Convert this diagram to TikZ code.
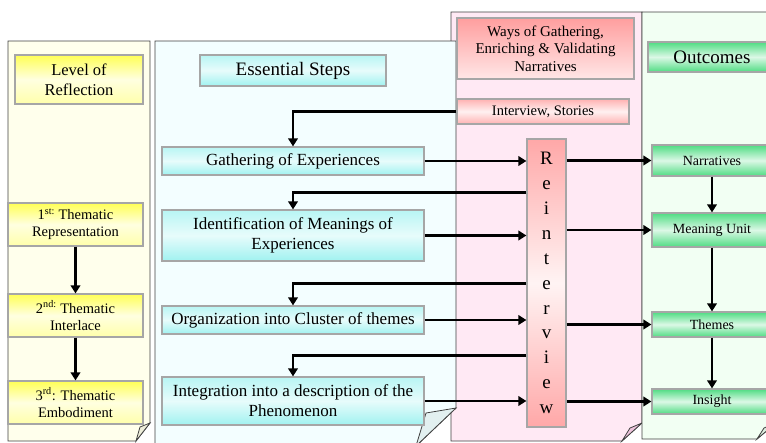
\documentclass[tikz,border=0pt]{standalone}
\usepackage{fontspec}
\setmainfont{Liberation Serif}
\usetikzlibrary{arrows.meta, positioning, calc}
\definecolor{panelline}{HTML}{404040}
\definecolor{paperyellow}{HTML}{FFFFEC}
\definecolor{papercyan}{HTML}{F3FEFF}
\definecolor{paperpink}{HTML}{FFE9F4}
\definecolor{papergreen}{HTML}{F2FFF3}
\definecolor{foldyellow}{HTML}{EEEEDA}
\definecolor{foldcyan}{HTML}{E2F0F0}
\definecolor{foldpink}{HTML}{EEC4DC}
\definecolor{foldgreen}{HTML}{DCEEDF}
\definecolor{levelyellow}{HTML}{FFFF55}
\definecolor{stepcyan}{HTML}{A0F2F0}
\definecolor{waypink}{HTML}{FF9E9E}
\definecolor{outgreen}{HTML}{4FDC82}
\tikzset{
  paper/.style={draw=panelline, line width=0.8pt},
  levelbox/.style={draw=black!35, line width=1.2pt, top color=levelyellow, bottom color=levelyellow!50,
                   middle color=levelyellow!18, inner sep=0pt, align=center,
                   font=\fontsize{14.5}{17}\selectfont},
  stepbox/.style={draw=black!35, line width=1.2pt, top color=stepcyan!75, bottom color=stepcyan,
                  middle color=stepcyan!25, inner sep=0pt, align=center,
                  font=\fontsize{17}{20}\selectfont},
  waybox/.style={draw=black!35, line width=1.2pt, top color=waypink, bottom color=waypink!25,
                 inner sep=0pt, align=center, font=\fontsize{15}{17.5}\selectfont},
  outbox/.style={draw=black!35, line width=1.2pt, top color=outgreen, bottom color=outgreen,
                 middle color=outgreen!20, inner sep=0pt, align=center,
                 font=\fontsize{14}{17}\selectfont},
  flowarrow/.style={-{Triangle[length=8pt, width=9.5pt]}, line width=2.4pt},
}

\begin{document}
\begin{tikzpicture}[x=1pt, y=-1pt]
  \useasboundingbox (0,0) rectangle (766,442);
  \clip (0,0) rectangle (766,442);

  % Paper sheets with folded corners
  \filldraw[paper, fill=paperpink] (451,12) -- (642,12) -- (642,423) -- (622,441) -- (451,441) -- cycle;
  \filldraw[paper, fill=foldpink] (642,423) -- (630,428) -- (622,441) -- cycle;
  \filldraw[paper, fill=papergreen] (642,12) -- (776,12) -- (776,423) -- (757,439) -- (642,439) -- cycle;
  \filldraw[paper, fill=foldgreen] (776,423) -- (764,428) -- (757,439) -- cycle;
  \filldraw[paper, fill=paperyellow] (8,41) -- (150,41) -- (150,423) -- (136,441) -- (8,441) -- cycle;
  \filldraw[paper, fill=foldyellow] (150,423) -- (140,427) -- (136,441) -- cycle;
  \filldraw[paper, fill=papercyan] (155,41) -- (456,41) -- (456,408) -- (416,446) -- (155,446) -- cycle;
  \filldraw[paper, fill=foldcyan] (456,408) -- (426,413) -- (416,446) -- cycle;

  % Level of Reflection (left)
  \node[levelbox, minimum width=128, minimum height=49, font=\fontsize{16.5}{20}\selectfont] (level) at (79,79.5) {Level of\\Reflection};
  \node[levelbox, minimum width=135, minimum height=43] (rep) at (75.5,224.5) {1\textsuperscript{st:} Thematic\\Representation};
  \node[levelbox, minimum width=135, minimum height=43] (inter) at (75.5,315.5) {2\textsuperscript{nd:} Thematic\\Interlace};
  \node[levelbox, minimum width=135, minimum height=43] (embod) at (75.5,402.5) {3\textsuperscript{rd}: Thematic\\Embodiment};
  \draw[flowarrow] (rep.south) -- (inter.north);
  \draw[flowarrow] (inter.south) -- (embod.north);

  % Essential Steps (middle)
  \node[stepbox, minimum width=186, minimum height=31, font=\fontsize{19}{20}\selectfont] (steps) at (293,70.5) {Essential Steps};
  \node[stepbox, minimum width=262, minimum height=28] (gather) at (293,161) {Gathering of Experiences};
  \node[stepbox, minimum width=262, minimum height=51] (ident) at (293,235.5) {Identification of Meanings of\\Experiences};
  \node[stepbox, minimum width=262, minimum height=28] (organ) at (293,320) {Organization into Cluster of themes};
  \node[stepbox, minimum width=262, minimum height=48] (integ) at (293,401) {Integration into a description of the\\Phenomenon};

  % Ways of gathering (right)
  \node[waybox, minimum width=177, minimum height=61] (ways) at (545.5,48.5) {Ways of Gathering,\\Enriching \& Validating\\Narratives};
  \node[waybox, top color=waypink!80, bottom color=waypink!80, middle color=waypink!15, minimum width=172, minimum height=25, font=\fontsize{14.5}{17}\selectfont] (story) at (543,111.5) {Interview, Stories};
  \node[waybox, top color=waypink!90, bottom color=waypink!90, middle color=waypink!12, minimum width=39, minimum height=288, font=\fontsize{19}{24.9}\selectfont] (reint) at (546.5,283)
    {R\\e\\i\\n\\t\\e\\r\\v\\i\\e\\w};

  % Outcomes (far right)
  \node[outbox, minimum width=128, minimum height=30, font=\fontsize{19}{20}\selectfont] (outc) at (712,57) {Outcomes};
  \node[outbox, minimum width=120, minimum height=31] (narr) at (712,160.5) {Narratives};
  \node[outbox, minimum width=120, minimum height=34] (unit) at (712,230) {Meaning Unit};
  \node[outbox, minimum width=120, minimum height=25] (theme) at (712,324.5) {Themes};
  \node[outbox, minimum width=120, minimum height=25] (insig) at (712,401.5) {Insight};
  \draw[flowarrow] (narr.south) -- (unit.north);
  \draw[flowarrow] (unit.south) -- (theme.north);
  \draw[flowarrow] (theme.south) -- (insig.north);

  % Steps <-> Reinterview
  \draw[flowarrow] (story.west) -| (gather.north);
  \draw[flowarrow] (gather.east) -- (gather.east -| reint.west);
  \draw[flowarrow] (reint.west |- {$(gather.south)!0.5!(ident.north)$}) -| (ident.north);
  \draw[flowarrow] (ident.east) -- (ident.east -| reint.west);
  \draw[flowarrow] (reint.west |- {$(ident.south)!0.5!(organ.north)$}) -| (organ.north);
  \draw[flowarrow] (organ.east) -- (organ.east -| reint.west);
  \draw[flowarrow] (reint.west |- {$(organ.south)!0.5!(integ.north)$}) -| (integ.north);
  \draw[flowarrow] (integ.east) -- (integ.east -| reint.west);

  % Reinterview -> Outcomes
  \draw[flowarrow] (reint.east |- narr.west) -- (narr.west);
  \draw[flowarrow] (reint.east |- unit.west) -- (unit.west);
  \draw[flowarrow] (reint.east |- theme.west) -- (theme.west);
  \draw[flowarrow] (reint.east |- insig.west) -- (insig.west);
\end{tikzpicture}
\end{document}
